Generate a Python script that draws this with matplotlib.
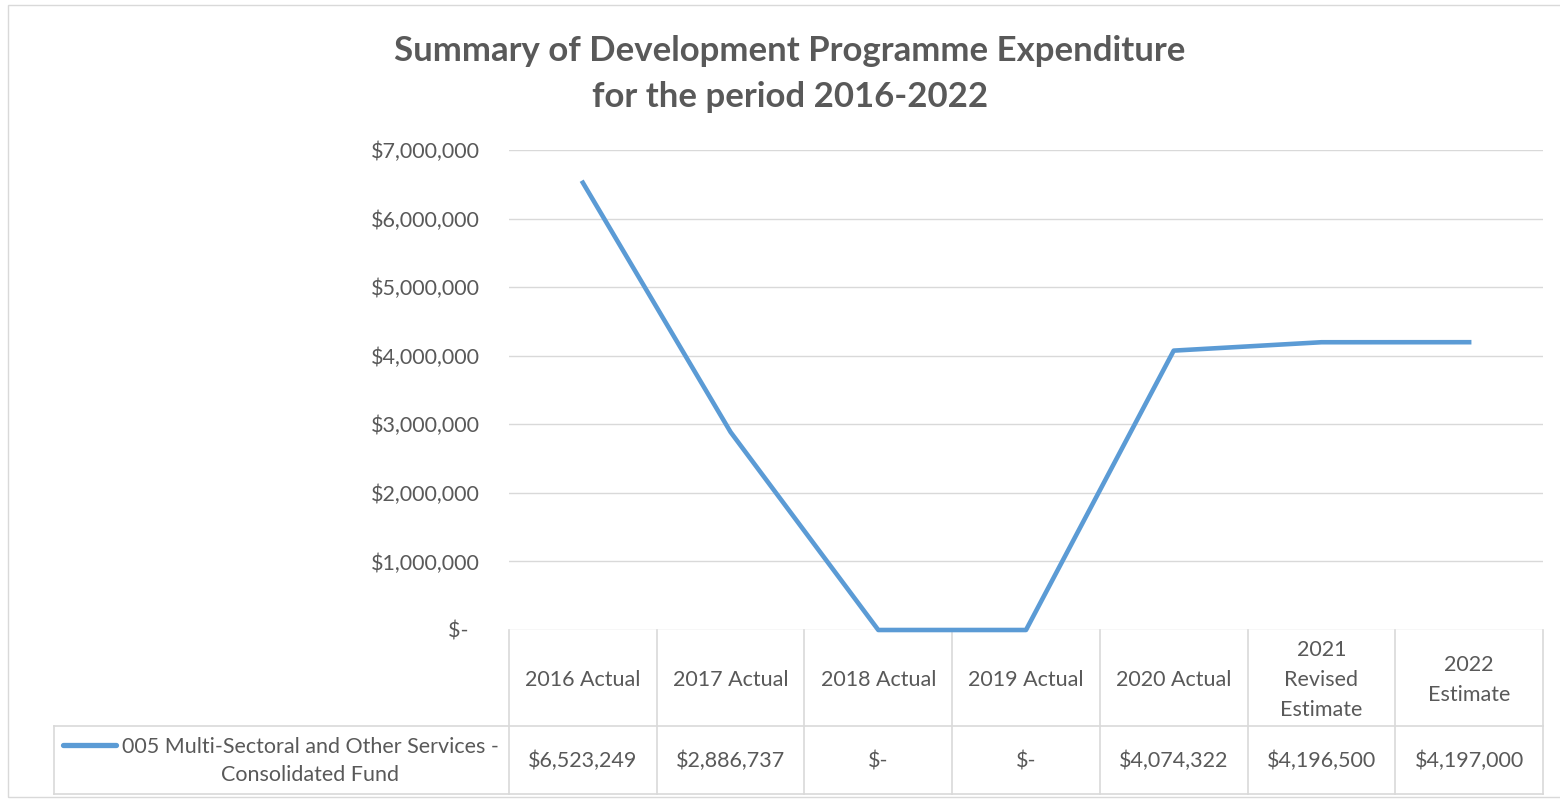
import matplotlib.pyplot as plt
from matplotlib.lines import Line2D
from matplotlib.patches import Rectangle
from matplotlib.transforms import blended_transform_factory

# chart data
categories = ['2016 Actual', '2017 Actual', '2018 Actual', '2019 Actual',
              '2020 Actual', '2021\nRevised\nEstimate', '2022\nEstimate']
expenditure = [6523249, 2886737, 0, 0, 4074322, 4196500, 4197000]
series_name = '005 Multi-Sectoral and Other Services -\nConsolidated Fund'
y_ticks = [0, 1000000, 2000000, 3000000, 4000000, 5000000, 6000000, 7000000]
title_lines = ['Summary of Development Programme Expenditure',
               'for the period 2016-2022']

W, H = 1560, 800
line_color = '#5B9BD5'
text_color = '#595959'
grid_color = '#D9D9D9'
font = 'Lato'
fs = 15.5


def fx(x):
    return x / W


def fy(y):
    return 1 - y / H


def money(v):
    return '${:,.0f}'.format(v) if v else '$-'


fig = plt.figure(figsize=(W / 100, H / 100), dpi=100)
ax = fig.add_axes([fx(509), fy(630), 1034 / W, 480 / H])

ax.plot(range(len(expenditure)), expenditure, color=line_color, lw=3.3,
        clip_on=False, zorder=5)
ax.set_xlim(-0.5, len(categories) - 0.5)
ax.set_ylim(0, 7000000)
ax.set_xticks([])
ax.set_yticks(y_ticks)
ax.set_yticklabels([money(v) + ('  ' if v == 0 else '') for v in y_ticks],
                   fontsize=fs, color=text_color, family=font)
ax.tick_params(axis='y', length=0, pad=21)
ax.yaxis.grid(True, color=grid_color, lw=1)
ax.set_axisbelow(True)
for s in ax.spines.values():
    s.set_visible(False)

# title
for i, t in enumerate(title_lines):
    fig.text(fx(790), fy(51 + 46 * i), t, ha='center', va='center',
             fontsize=25, fontweight='bold', color=text_color, family=font)

# data table below the axis
bt = blended_transform_factory(ax.transData, fig.transFigure)
n = len(categories)
for k in range(n + 1):
    ax.add_line(Line2D([k - 0.5, k - 0.5], [fy(630), fy(794)], transform=bt,
                       color=grid_color, lw=1.2, clip_on=False))
for yy in (726, 794):
    fig.add_artist(Line2D([fx(54), fx(1543)], [fy(yy), fy(yy)],
                          color=grid_color, lw=1.2))
fig.add_artist(Line2D([fx(54), fx(54)], [fy(726), fy(794)],
                      color=grid_color, lw=1.2))

for k, (c, v) in enumerate(zip(categories, expenditure)):
    ax.text(k, fy(680), c, transform=bt, ha='center', va='center',
            multialignment='center', fontsize=fs, color=text_color,
            family=font, linespacing=1.6)
    ax.text(k, fy(761), money(v), transform=bt, ha='center', va='center',
            fontsize=fs, color=text_color, family=font)

# legend key and series name
fig.add_artist(Line2D([fx(63), fx(116)], [fy(745), fy(745)], color=line_color,
                      lw=3.8, solid_capstyle='round'))
fig.text(fx(310), fy(761), series_name, ha='center', va='center',
         multialignment='center', fontsize=fs, color=text_color, family=font,
         linespacing=1.55)

# chart border
fig.add_artist(Rectangle((fx(8), fy(797)), fx(1560), 792 / H, fill=False,
                         edgecolor=grid_color, lw=1))

fig.savefig('out.png', dpi=100)
